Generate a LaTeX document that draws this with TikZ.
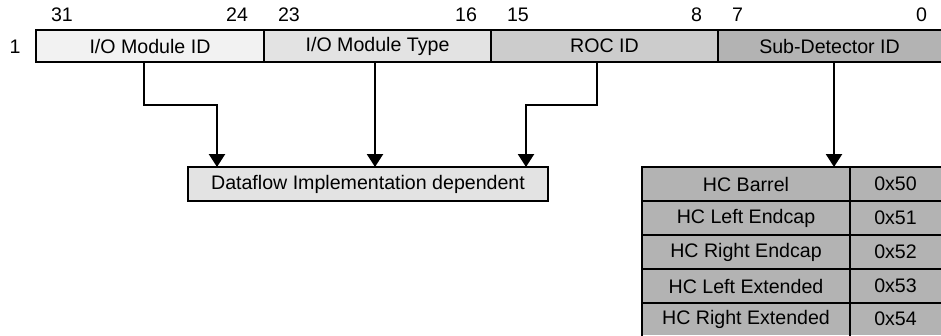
\documentclass[tikz,border=0pt]{standalone}
\usepackage{fontspec}
\setmainfont{Liberation Sans}
\usetikzlibrary{arrows.meta,calc}
\begin{document}
\begin{tikzpicture}[x=1pt,y=-1pt,
  every node/.style={font=\fontsize{19.6}{22}\selectfont, inner sep=0pt, outer sep=0pt},
  cell/.style={anchor=north west, minimum height=32pt},
  tcell/.style={anchor=north west, minimum height=34pt, fill=gray70},
  bitlbl/.style={},
  frame/.style={line width=2.6pt, line cap=rect},
  conn/.style={line width=2.4pt, -{Triangle[length=13pt,width=16pt]}},
  connline/.style={line width=2.4pt}
]
\definecolor{gray95}{HTML}{F2F2F2}
\definecolor{gray88}{HTML}{E3E3E3}
\definecolor{gray80}{HTML}{CCCCCC}
\definecolor{gray70}{HTML}{B3B3B3}
\useasboundingbox (0,0) rectangle (941,335);
\fill[white] (0,0) rectangle (941,335);

% top row
\node[cell, fill=gray95, minimum width=228pt] (A) at (36,30) {I/O Module ID};
\node[cell, fill=gray88, minimum width=227pt] (B) at (264,30) {I/O Module Type};
\node[cell, fill=gray80, minimum width=227pt] (C) at (491,30) {ROC ID};
\node[cell, fill=gray70, minimum width=223pt] (D) at (718,30) {Sub-Detector ID};
\draw[frame] (D.north east) -- (A.north west) -- (A.south west) -- (D.south east);
\draw[frame] (A.north east) -- (A.south east);
\draw[frame] (B.north east) -- (B.south east);
\draw[frame] (C.north east) -- (C.south east);

% bit numbers
\node[anchor=base west] (b31) at (51,21) {31};
\node[anchor=base east] (b24) at (248,21) {24};
\node[anchor=base west] (b23) at (278,21) {23};
\node[anchor=base east] (b16) at (477,21) {16};
\node[anchor=base west] (b15) at (507,21) {15};
\node[anchor=base east] (b8) at (702,21) {8};
\node[anchor=base west] (b7) at (732,21) {7};
\node[anchor=base east] (b0) at (927,21) {0};
\node[anchor=base] (row1) at (15,53) {1};

% dataflow box
\node[anchor=north west, fill=gray88, draw, line width=2.4pt, minimum width=360pt, minimum height=34pt] (DF) at (188,167) {Dataflow Implementation dependent};

% table
\node[tcell, minimum width=208pt] (t0) at (642,167) {HC Barrel};
\node[tcell, minimum width=91pt] (v0) at (850,167) {0x50};
\node[tcell, minimum width=208pt] (t1) at (642,201) {HC Left Endcap};
\node[tcell, minimum width=91pt] (v1) at (850,201) {0x51};
\node[tcell, minimum width=208pt] (t2) at (642,235) {HC Right Endcap};
\node[tcell, minimum width=91pt] (v2) at (850,235) {0x52};
\node[tcell, minimum width=208pt] (t3) at (642,269) {HC Left Extended};
\node[tcell, minimum width=91pt] (v3) at (850,269) {0x53};
\node[tcell, minimum width=208pt, minimum height=32pt] (t4) at (642,303) {HC Right Extended};
\node[tcell, minimum width=91pt, minimum height=32pt] (v4) at (850,303) {0x54};
\draw[frame] (v0.north east) -- (t0.north west) -- (t4.south west);
\draw[frame] (t0.north east) -- (t4.south east);
\draw[frame] (t0.south west) -- (v0.south east);
\draw[frame] (t1.south west) -- (v1.south east);
\draw[frame] (t2.south west) -- (v2.south east);
\draw[frame] (t3.south west) -- (v3.south east);

% connectors
\draw[conn] ([xshift=-6pt]A.south) -- ++(0,43) -| ([xshift=-151pt]DF.north);
\draw[conn] ([xshift=-2.5pt]B.south) -- ([xshift=7pt]DF.north);
\draw[conn] ([xshift=-7.5pt]C.south) -- ++(0,43) -| ([xshift=158pt]DF.north);
\draw[conn] ([xshift=4.5pt]D.south) -- ([xshift=192pt]t0.north west);
\end{tikzpicture}
\end{document}
